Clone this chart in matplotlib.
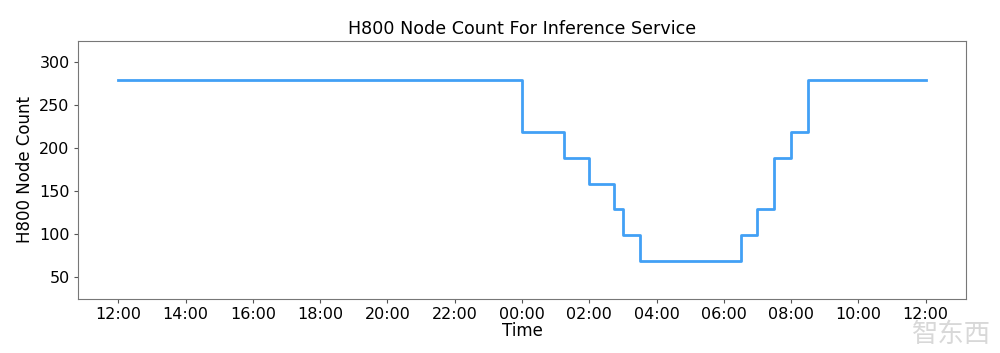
import numpy as np
import pandas as pd
import matplotlib
matplotlib.use("Agg")
import matplotlib.pyplot as plt
import matplotlib.dates as mdates

# step change times (post style) and node counts
times = ["2025-02-27 12:00", "2025-02-28 00:00", "2025-02-28 01:15", "2025-02-28 02:00",
         "2025-02-28 02:45", "2025-02-28 03:00", "2025-02-28 03:30", "2025-02-28 06:30",
         "2025-02-28 07:00", "2025-02-28 07:30", "2025-02-28 08:00", "2025-02-28 08:30",
         "2025-02-28 12:00"]
nodes = [279, 219, 189, 159, 129, 99, 69, 99, 129, 189, 219, 279, 279]

t = pd.to_datetime(times)

fig, ax = plt.subplots(figsize=(10, 3.53), dpi=100)
fig.subplots_adjust(left=0.078, right=0.966, top=0.885, bottom=0.153)

ax.step(t, nodes, where="post", color="#42a0f5", linewidth=2)

ax.set_ylim(25, 325)
ax.set_yticks([50, 100, 150, 200, 250, 300])
ax.xaxis.set_major_locator(mdates.HourLocator(byhour=range(0, 24, 2)))
ax.xaxis.set_major_formatter(mdates.DateFormatter("%H:%M"))
ax.tick_params(labelsize=11.5, color="#555555", length=3, pad=3)
for s in ax.spines.values():
    s.set_color("#777777")

ax.set_title("H800 Node Count For Inference Service", fontsize=12.6, pad=5)
ax.set_xlabel("Time", fontsize=12, labelpad=0)
ax.set_ylabel("H800 Node Count", fontsize=12)

# watermark (nudged below the last tick label)
fig.text(0.952, 0.052, "智东西", fontsize=19, color="#d8d8d8",
         family=["Noto Sans CJK SC", "DejaVu Sans"], ha="center", va="center")

plt.savefig("out.png")
